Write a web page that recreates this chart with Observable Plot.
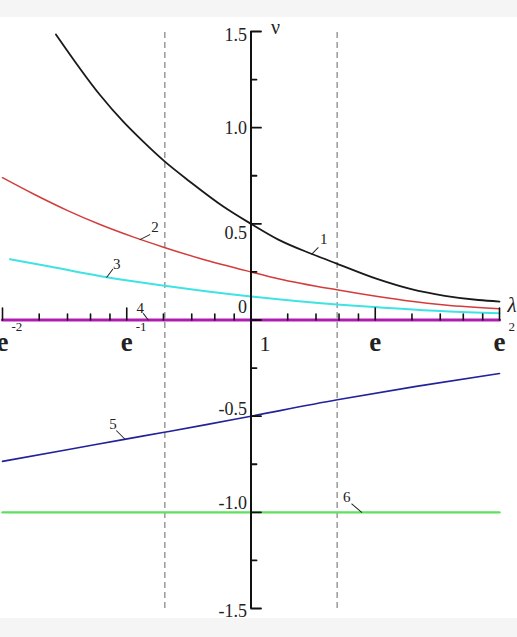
<!DOCTYPE html>
<html>
<head>
<meta charset="utf-8">
<script src="https://cdn.jsdelivr.net/npm/d3@7"></script>
<script src="https://cdn.jsdelivr.net/npm/@observablehq/plot@0.6"></script>
<style>
  html, body { margin: 0; padding: 0; background: #f5f5f5; }
  #chart { position: absolute; left: 0; top: 17px; }
</style>
</head>
<body>
<div id="chart"></div>
<script>
const E = Math.E;

// ---- data (x given as ln λ, y as ν) ----
const curve1Ln = [-1.57, -1.215, -1.028, -0.867, -0.70, -0.491, -0.223, 0, 0.22, 0.49, 0.69, 1.02, 1.29, 1.56, 1.83, 2.0];
const curve1Nu = [1.485, 1.17, 1.031, 0.927, 0.827, 0.719, 0.59, 0.50, 0.418, 0.343, 0.293, 0.212, 0.16, 0.126, 0.104, 0.096];

const curve2Ln = [-2.0, -1.75, -1.48, -1.21, -0.95, -0.71, -0.41, 0, 0.22, 0.69, 1.02, 1.29, 1.56, 2.0];
const curve2Nu = [0.74, 0.655, 0.57, 0.495, 0.432, 0.38, 0.32, 0.25, 0.215, 0.157, 0.122, 0.097, 0.078, 0.058];

const curve3Ln = [-1.94, -1.62, -1.21, -0.95, -0.71, -0.41, 0, 0.69, 1.02, 1.56, 2.0];
const curve3Nu = [0.316, 0.278, 0.228, 0.201, 0.179, 0.153, 0.122, 0.08, 0.066, 0.045, 0.035];

const curve4Ln = [-2, 2];
const curve4Nu = [0, 0];

const curve5Ln = [-2, -1.48, -1.03, -0.71, -0.36, 0, 0.695, 1.33, 2];
const curve5Nu = [-0.735, -0.675, -0.622, -0.585, -0.544, -0.50, -0.415, -0.345, -0.278];

const curve6Ln = [-2, 2];
const curve6Nu = [-1, -1];

const dashedLambda = [0.5, 2];

const xMajorLn = [-2, -1, 0, 1, 2];
const xTickBase = ["e", "e", "1", "e", "e"];
const xTickSup = ["-2", "-1", "", "", "2"];

const yMajor = [-1.5, -1, -0.5, 0, 0.5, 1, 1.5];
const yMinor = [-1.25, -0.75, -0.25, 0.25, 0.75, 1.25];
const yLabels = ["-1.5", "-1.0", "-0.5", "0", "0.5", "1.0", "1.5"];

const curveLabels = ["1", "2", "3", "4", "5", "6"];
const labelLn = [0.489, -0.893, -1.161, -0.827, -1.014, 0.891];
const labelNu = [0.343, 0.418, 0.222, 0, -0.62, -1];

// ---- styles ----
const colors = ["#1a1a1a", "#d43c3c", "#3fe3e3", "#b01cb0", "#22229a", "#5fe05f"];
const widths = [1.8, 1.5, 2, 3.2, 1.6, 2.4];
const labelStyle = [
  {dx: 12, dy: -15, rot: 45, len: 9},
  {dx: 15, dy: -12, rot: 63, len: 11},
  {dx: 10, dy: -13, rot: 37, len: 10},
  {dx: -8, dy: -12, rot: -37, len: 8},
  {dx: -12, dy: -15, rot: -45, len: 12},
  {dx: -15, dy: -15, rot: -50, len: 13}
];
const yLabelDy = {"1.5": 4, "1.0": 1, "0.5": 9, "0": -13, "-0.5": -7, "-1.0": -9, "-1.5": 3};

function series(lns, nus) {
  return lns.map((l, i) => ({lambda: Math.exp(l), nu: nus[i]}));
}
const curves = [
  series(curve1Ln, curve1Nu),
  series(curve2Ln, curve2Nu),
  series(curve3Ln, curve3Nu),
  series(curve4Ln, curve4Nu),
  series(curve5Ln, curve5Nu),
  series(curve6Ln, curve6Nu)
];

const xMajor = xMajorLn.map(l => Math.exp(l));
const xMinor = [];
for (let k = 0; k < xMajor.length - 1; k++) {
  const a = xMajor[k], b = xMajor[k + 1];
  for (let j = 1; j < 5; j++) xMinor.push(a + j * (b - a) / 5);
}

const stick = {draw(ctx, l) { ctx.moveTo(0, 0); ctx.lineTo(0, -l); }};
const serif = "'Liberation Serif', 'Times New Roman', serif";

const curveMarks = [0, 1, 2, 4, 5].map(i =>
  Plot.line(curves[i], {x: "lambda", y: "nu", stroke: colors[i], strokeWidth: widths[i], curve: "monotone-x"})
);

const labelMarks = [];
curveLabels.forEach((t, i) => {
  const s = labelStyle[i];
  const d = [{lambda: Math.exp(labelLn[i]), nu: labelNu[i], t}];
  labelMarks.push(Plot.vector(d, {x: "lambda", y: "nu", length: s.len, rotate: s.rot, anchor: "start", shape: stick, stroke: "#222", strokeWidth: 1}));
  labelMarks.push(Plot.text(d, {x: "lambda", y: "nu", text: "t", dx: s.dx, dy: s.dy, fontSize: 15, fill: "#222"}));
});

const xLab = xMajor.map((v, i) => ({v, base: xTickBase[i], sup: xTickSup[i]}));
const yLab = yMajor.map((v, i) => ({v, t: yLabels[i]}));

const chart = Plot.plot({
  width: 517,
  height: 601,
  marginLeft: 2,
  marginRight: 18,
  marginTop: 14,
  marginBottom: 10,
  style: {background: "white", fontFamily: serif, color: "#111"},
  x: {type: "log", base: E, domain: [Math.exp(-2), Math.exp(2)], axis: null},
  y: {domain: [-1.5, 1.5], axis: null},
  marks: [
    Plot.ruleX(dashedLambda, {y1: -1.5, y2: 1.5, stroke: "#666", strokeWidth: 1, strokeDasharray: "6,4"}),
    ...curveMarks,
    Plot.ruleY([0], {x1: Math.exp(-2), x2: Math.exp(2), stroke: "#111", strokeWidth: 1}),
    Plot.line(curves[3], {x: "lambda", y: "nu", stroke: colors[3], strokeWidth: widths[3]}),
    Plot.vector(xMajor, {x: d => d, y: 0, length: 12, rotate: 0, anchor: "start", shape: stick, stroke: "#111", strokeWidth: 1.6}),
    Plot.vector(xMinor, {x: d => d, y: 0, length: 6, rotate: 0, anchor: "start", shape: stick, stroke: "#111", strokeWidth: 1.6}),
    Plot.ruleX([1], {y1: -1.5, y2: 1.5, stroke: "#111", strokeWidth: 2}),
    Plot.vector(yMajor, {x: 1, y: d => d, length: 10, rotate: 90, anchor: "start", shape: stick, stroke: "#111", strokeWidth: 1.8}),
    Plot.vector(yMinor, {x: 1, y: d => d, length: 5.5, rotate: 90, anchor: "start", shape: stick, stroke: "#111", strokeWidth: 1.8}),
    // y tick labels
    ...yLab.map(d => Plot.text([d], {x: 1, y: "v", text: "t", textAnchor: "end", dx: -4, dy: yLabelDy[d.t], fontSize: 18, fill: "#222"})),
    // x tick labels
    Plot.text(xLab.filter(d => d.base === "e"), {x: "v", y: 0, text: "base", dy: 22, fontSize: 27, fontWeight: 600, fill: "#222"}),
    Plot.text(xLab.filter(d => d.base !== "e"), {x: "v", y: 0, text: "base", dx: 14, dy: 24, fontSize: 22, fill: "#222"}),
    Plot.text(xLab.filter(d => d.sup), {x: "v", y: 0, text: "sup", textAnchor: "start", dx: 9, dy: 7, fontSize: 13, fill: "#222"}),
    // axis names
    Plot.text(["ν"], {x: 1, y: 1.5, text: d => d, textAnchor: "start", dx: 20, dy: -4, fontSize: 20, fill: "#222"}),
    Plot.text(["λ"], {x: Math.exp(2), y: 0, text: d => d, textAnchor: "start", dx: 8, dy: -15, fontSize: 21, fontStyle: "italic", fill: "#222"}),
    ...labelMarks
  ]
});
document.getElementById("chart").appendChild(chart);
</script>
</body>
</html>
